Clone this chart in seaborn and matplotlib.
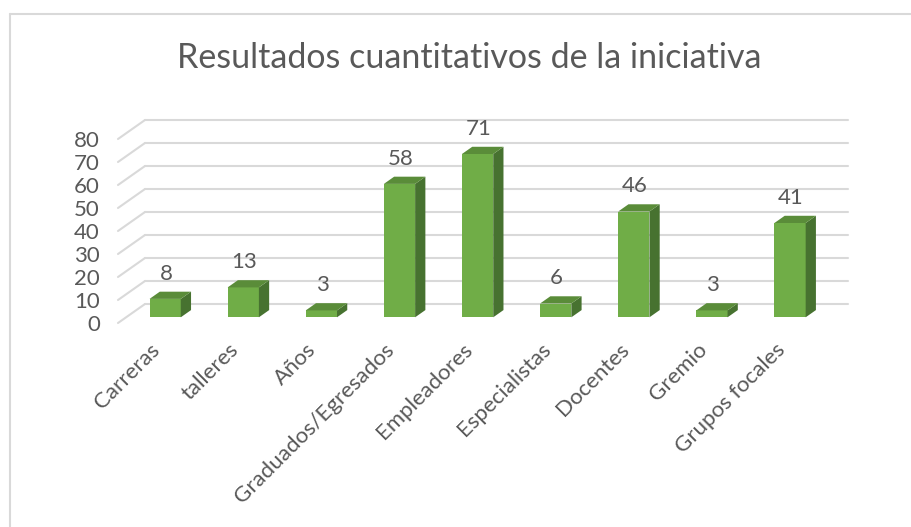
import pandas as pd
import seaborn as sns
import matplotlib.pyplot as plt
from matplotlib import transforms as mtransforms
from matplotlib.patches import Polygon
from matplotlib.lines import Line2D

categorias = ["Carreras", "talleres", "Años", "Graduados/Egresados", "Empleadores",
              "Especialistas", "Docentes", "Gremio", "Grupos focales"]
valores = [8, 13, 3, 58, 71, 6, 46, 3, 41]
ticks_y = [0, 10, 20, 30, 40, 50, 60, 70, 80]
titulo = "Resultados cuantitativos de la iniciativa"

df = pd.DataFrame({"categoria": categorias, "valor": valores})

sns.set_theme(style="white")
plt.rcParams["font.family"] = ["Lato", "DejaVu Sans"]

W, H, DPI = 912, 527, 100
verde = "#70ad47"
verde_top = "#5a8c39"
verde_lado = "#477230"
gris = "#d9d9d9"
texto = "#595959"
fs = 16

fig = plt.figure(figsize=(W / DPI, H / DPI), dpi=DPI)
ax = fig.add_axes([118 / W, 1 - 323 / H, 703 / W, 184 / H])
ax.patch.set_alpha(0)

sns.barplot(data=df, x="categoria", y="valor", color=verde, width=0.4,
            saturation=1, linewidth=0, ax=ax, zorder=3)
ax.set_xlim(-0.5, len(categorias) - 0.5)
ax.set_ylim(0, 80)
for s in ax.spines.values():
    s.set_visible(False)

# fake 3d: depth vector in pixels (front plane -> back wall)
DX, DY = 27, 19
f0, f1 = 0.3, 0.68
a0, b0 = f0 * DX, f0 * DY
a1, b1 = f1 * DX, f1 * DY
ident = mtransforms.IdentityTransform()
to_disp = ax.transData.transform

for t in ticks_y:
    x0, y0 = to_disp((-0.5, t))
    x1, y1 = to_disp((len(categorias) - 0.5, t))
    ax.add_line(Line2D([x0 + DX, x1 + DX], [y0 + DY, y1 + DY], color=gris, lw=1.5,
                       transform=ident, clip_on=False, zorder=1))
    ax.add_line(Line2D([x0, x0 + DX], [y0, y0 + DY], color=gris, lw=1.5,
                       transform=ident, clip_on=False, zorder=1))

shift = mtransforms.ScaledTranslation(a0 / DPI, b0 / DPI, fig.dpi_scale_trans)
for p, v in zip(ax.patches, valores):
    x, w, h = p.get_x(), p.get_width(), p.get_height()
    xl, yb = to_disp((x, 0))
    xr, yt = to_disp((x + w, h))
    p.set_transform(ax.transData + shift)
    p.set_clip_on(False)
    lado = [(xr + a0, yb + b0), (xr + a1, yb + b1), (xr + a1, yt + b1), (xr + a0, yt + b0)]
    tapa = [(xl + a0, yt + b0), (xr + a0, yt + b0), (xr + a1, yt + b1), (xl + a1, yt + b1)]
    ax.add_patch(Polygon(lado, closed=True, facecolor=verde_lado, lw=0,
                         transform=ident, clip_on=False, zorder=3))
    ax.add_patch(Polygon(tapa, closed=True, facecolor=verde_top, lw=0,
                         transform=ident, clip_on=False, zorder=3))
    ax.annotate(str(v), (x + w / 2, h), xytext=(a0 + 1, b0 + 25),
                textcoords="offset pixels", ha="center", va="center",
                fontsize=fs, color=texto, annotation_clip=False)

ax.set_yticks(ticks_y)
ax.set_yticklabels([str(t) for t in ticks_y])
ax.tick_params(axis="y", length=0, pad=13, labelsize=fs, labelcolor=texto)
ax.tick_params(axis="x", length=0, pad=17, labelsize=fs, labelcolor=texto)
plt.setp(ax.get_xticklabels(), rotation=45, ha="right", va="center",
         rotation_mode="anchor")
ax.set_xlabel("")
ax.set_ylabel("")

fig.text(469 / W, 1 - 58 / H, titulo, ha="center", va="center",
         fontsize=24.5, color=texto)

# chart area border (top and left only visible)
fig.add_artist(Line2D([10 / W, 10 / W], [0, 1 - 13.5 / H], color=gris, lw=1.5))
fig.add_artist(Line2D([10 / W, 1], [1 - 13.5 / H, 1 - 13.5 / H], color=gris, lw=1.5))

fig.savefig("out.png", dpi=DPI)
